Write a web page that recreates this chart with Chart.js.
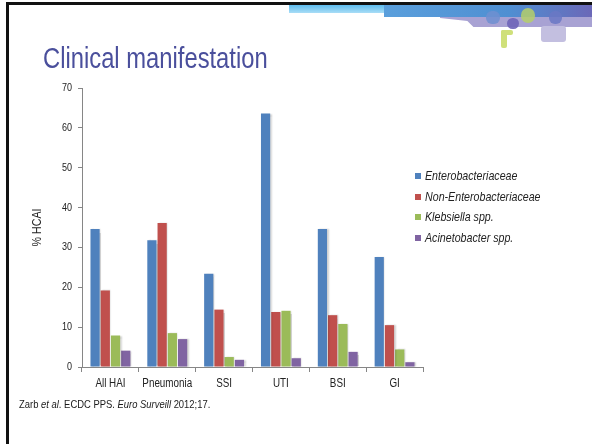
<!DOCTYPE html>
<html>
<head>
<meta charset="utf-8">
<script src="https://cdn.jsdelivr.net/npm/chart.js@4.4.1/dist/chart.umd.min.js"></script>
<style>
	html, body { margin: 0; padding: 0; background: #fff; }
	#slide { position: relative; width: 592px; height: 444px; overflow: hidden; font-family: 'Liberation Sans', Arial, sans-serif; }
	#chart { position: absolute; left: 0; top: 0; }
	.deco { position: absolute; }
	.narrow { display: inline-block; transform: scaleX(0.82); transform-origin: 0 50%; white-space: nowrap; }
	#title { position: absolute; left: 43px; top: 44px; font-size: 29px; line-height: 29px; color: #4a4f9c; white-space: nowrap; }
	#legend { position: absolute; left: 415px; top: 166px; font-size: 13px; color: #222; font-style: italic; }
	#legend .row { height: 20.6px; line-height: 20.6px; white-space: nowrap; }
	#legend .sw { display: inline-block; width: 6px; height: 6px; margin-right: 4px; vertical-align: 1px; }
	#source { position: absolute; left: 19px; top: 397px; font-size: 11.5px; line-height: 14px; color: #1a1a1a; white-space: nowrap; }
</style>
</head>
<body>
<div id="slide">
	<canvas id="chart" width="592" height="444"></canvas>

	<!-- cornice della slide -->
	<div class="deco" style="left:6px;top:2px;width:586px;height:3px;background:#111"></div>
	<div class="deco" style="left:6px;top:2px;width:3px;height:442px;background:#111"></div>
	<div class="deco" style="left:289px;top:5px;width:95px;height:8px;background:linear-gradient(#5fbdef,#a9ddf6)"></div>
	<div class="deco" style="left:440px;top:12px;width:152px;height:15px;background:#a8a2d3;clip-path:polygon(0 0,100% 0,100% 100%,22% 100%,18% 60%,0 40%)"></div>
	<div class="deco" style="left:384px;top:5px;width:208px;height:12px;background:linear-gradient(90deg,#5a9fdc,#4f8fd2 60%,#6b68b8)"></div>
	<div class="deco" style="left:486px;top:11px;width:14px;height:13px;border-radius:6px;background:#6f8fd0;opacity:.85"></div>
	<div class="deco" style="left:521px;top:8px;width:14px;height:15px;border-radius:7px;background:#b5cf6a;opacity:.85"></div>
	<div class="deco" style="left:507px;top:18px;width:12px;height:11px;border-radius:6px;background:#6e64b8;opacity:.9"></div>
	<div class="deco" style="left:549px;top:11px;width:13px;height:13px;border-radius:6px;background:#6a78c4;opacity:.85"></div>
	<div class="deco" style="left:541px;top:26px;width:25px;height:16px;border-radius:3px;background:#c3bfe0"></div>
	<div class="deco" style="left:501px;top:30px;width:6px;height:18px;border-radius:2px;background:#cfe07a"></div>
	<div class="deco" style="left:501px;top:30px;width:12px;height:5px;border-radius:2px;background:#cfe07a"></div>

	<div id="title"><span class="narrow">Clinical manifestation</span></div>
	<div id="legend"></div>
	<div id="source"><span class="narrow">Zarb <i>et al</i>. ECDC PPS. <i>Euro Surveill</i> 2012;17.</span></div>
</div>

<script>
//Dati (% HCAI).
const categories = ["All HAI", "Pneumonia", "SSI", "UTI", "BSI", "GI"];
const seriesNames = ["Enterobacteriaceae", "Non-Enterobacteriaceae", "Klebsiella spp.", "Acinetobacter spp."];
const seriesColors = ["#4f81bd", "#c0504d", "#9bbb59", "#8064a2"];

const enterobacteriaceae = [34.6, 31.8, 23.4, 63.6, 34.6, 27.6];
const nonEnterobacteriaceae = [19.2, 36.1, 14.4, 13.8, 13.0, 10.5];
const klebsiella = [7.9, 8.5, 2.5, 14.1, 10.8, 4.4];
const acinetobacter = [4.1, 7.0, 1.8, 2.2, 3.8, 1.2];

const Y_MIN = 0;
const Y_MAX = 70;
const Y_STEP = 10;
const Y_TITLE = "% HCAI";

const FONT = "'Liberation Sans', Arial, sans-serif";
const AXIS_COLOR = "#868686";
const TEXT_COLOR = "#222";
const SQUEEZE = 0.82;	//Il font originale e' un Arial Narrow.

const values = [enterobacteriaceae, nonEnterobacteriaceae, klebsiella, acinetobacter];

//Ombra leggera sulle barre, come nell'originale.
const barShadow = {
	id: "barShadow",
	beforeDatasetsDraw(chart){
		const ctx = chart.ctx;
		ctx.save();
		ctx.shadowColor = "rgba(0,0,0,0.18)";
		ctx.shadowOffsetX = 1.5;
		ctx.shadowOffsetY = 0;
		ctx.shadowBlur = 1.5;
	},
	afterDatasetsDraw(chart){
		chart.ctx.restore();
	}
};

//Etichette degli assi ridisegnate strette (le tick della libreria restano trasparenti).
function narrowText(ctx, text, x, y, align, angle){
	ctx.save();
	ctx.translate(x, y);
	if(angle) ctx.rotate(angle);
	ctx.scale(SQUEEZE, 1);
	ctx.textAlign = align;
	ctx.fillText(text, 0, 0);
	ctx.restore();
}

const narrowLabels = {
	id: "narrowLabels",
	afterDraw(chart){
		const ctx = chart.ctx;
		const xs = chart.scales.x;
		const ys = chart.scales.y;
		const area = chart.chartArea;

		ctx.save();
		ctx.fillStyle = TEXT_COLOR;
		ctx.textBaseline = "middle";

		ctx.font = "12px " + FONT;
		xs.ticks.forEach((t, i) => narrowText(ctx, xs.getLabelForValue(t.value), xs.getPixelForTick(i), area.bottom + 17, "center"));

		ctx.font = "11px " + FONT;
		ys.ticks.forEach((t, i) => narrowText(ctx, t.label, area.left - 10, ys.getPixelForTick(i), "right"));

		ctx.font = "13px " + FONT;
		narrowText(ctx, Y_TITLE, 37, (area.top + area.bottom) / 2, "center", -Math.PI / 2);
		ctx.restore();
	}
};

new Chart(document.getElementById("chart"), {
	type: "bar",
	data: {
		labels: categories,
		datasets: values.map((v, i) => ({
			label: seriesNames[i],
			data: v,
			backgroundColor: seriesColors[i],
			borderWidth: 0,
			categoryPercentage: 0.72,
			barPercentage: 0.9
		}))
	},
	options: {
		responsive: false,
		animation: false,
		devicePixelRatio: 1,
		layout: { padding: { left: 24, right: 169, top: 88, bottom: 47 } },
		plugins: {
			legend: { display: false },
			tooltip: { enabled: false }
		},
		scales: {
			x: {
				grid: { display: true, drawOnChartArea: false, offset: true, tickLength: 5, color: AXIS_COLOR },
				border: { color: AXIS_COLOR, width: 1 },
				ticks: { color: "rgba(0,0,0,0)", font: { family: FONT, size: 10 }, autoSkip: false, maxRotation: 0 },
				afterFit: s => { s.height = 30; }
			},
			y: {
				min: Y_MIN,
				max: Y_MAX,
				ticks: { stepSize: Y_STEP, color: "rgba(0,0,0,0)", font: { family: FONT, size: 11 }, padding: 6 },
				grid: { display: true, drawOnChartArea: false, tickLength: 4, color: AXIS_COLOR },
				border: { color: AXIS_COLOR, width: 1 },
				afterFit: s => { s.width = 58; }
			}
		}
	},
	plugins: [barShadow, narrowLabels]
});

//Legenda costruita dalle serie.
const legend = document.getElementById("legend");
seriesNames.forEach((name, i) => {
	const row = document.createElement("div");
	row.className = "row";
	const sw = document.createElement("span");
	sw.className = "sw";
	sw.style.background = seriesColors[i];
	const txt = document.createElement("span");
	txt.className = "narrow";
	txt.textContent = name;
	row.appendChild(sw);
	row.appendChild(txt);
	legend.appendChild(row);
});
</script>
</body>
</html>
